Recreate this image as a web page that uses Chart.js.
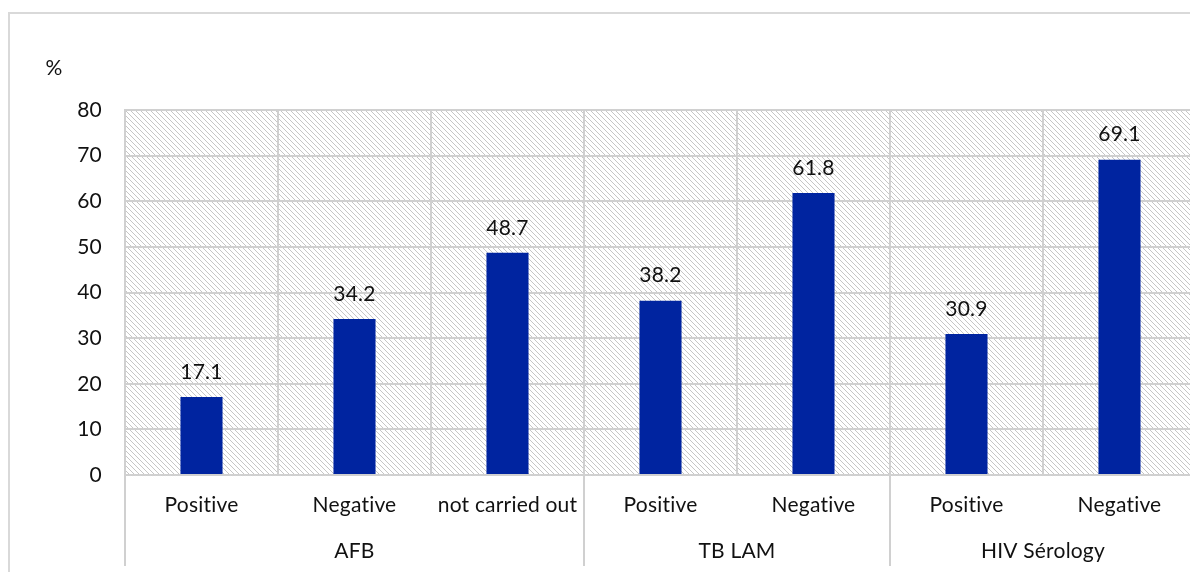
<!DOCTYPE html>
<html>
<head>
<meta charset="utf-8">
<script src="https://cdn.jsdelivr.net/npm/chart.js@4.4.1/dist/chart.umd.min.js"></script>
<style>
html,body{margin:0;padding:0;background:#fff;overflow:hidden;width:1190px;height:573px;}
canvas{display:block;}
</style>
</head>
<body>
<canvas id="c" width="1200" height="573"></canvas>
<script>
const categories = ['Positive','Negative','not carried out','Positive','Negative','Positive','Negative'];
const groups = ['AFB','TB LAM','HIV Sérology'];
const groupSizes = [3,2,2];
const values = [17.1,34.2,48.7,38.2,61.8,30.9,69.1];
const yTicks = [0,10,20,30,40,50,60,70,80];
const unitLabel = '%';

const FONT = 'Lato, "Open Sans", sans-serif';
const FS = 21;
const GRID = '#d0d0d0';

function makePattern(){
  const s = 5;
  const p = document.createElement('canvas');
  p.width = s; p.height = s;
  const g = p.getContext('2d');
  g.fillStyle = '#ffffff';
  g.fillRect(0,0,s,s);
  g.strokeStyle = '#c6c6c6';
  g.lineWidth = 1;
  for (const o of [-s,0,s]){
    g.beginPath();
    g.moveTo(o-1,-1);
    g.lineTo(o+s+1,s+1);
    g.stroke();
  }
  return g.createPattern(p,'repeat');
}

const decor = {
  id:'decor',
  beforeDraw(chart){
    const {ctx, chartArea:a} = chart;
    if ('letterSpacing' in ctx) ctx.letterSpacing = '0.2px';
    ctx.save();
    ctx.fillStyle = makePattern();
    ctx.fillRect(a.left,a.top,a.right-a.left,a.bottom-a.top);
    ctx.restore();
  },
  afterDraw(chart){
    const {ctx, chartArea:a} = chart;
    const x = chart.scales.x;
    ctx.save();
    // outer border
    ctx.strokeStyle = '#d9d9d9';
    ctx.lineWidth = 2;
    ctx.beginPath();
    ctx.moveTo(9,572); ctx.lineTo(9,13); ctx.lineTo(1200,13);
    ctx.stroke();
    // unit label
    ctx.fillStyle = '#111111';
    ctx.font = FS + 'px ' + FONT;
    ctx.textAlign = 'center';
    ctx.textBaseline = 'middle';
    ctx.fillText(unitLabel, 54, 68);
    // data labels
    const meta = chart.getDatasetMeta(0);
    meta.data.forEach((bar,i)=>{
      ctx.fillText(values[i].toFixed(1), bar.x, bar.y - 25);
    });
    // group separators and labels
    const half = (x.getPixelForValue(1) - x.getPixelForValue(0))/2;
    let idx = 0;
    ctx.strokeStyle = GRID;
    ctx.lineWidth = 2;
    const bounds = [];
    groups.forEach((gname,gi)=>{
      const l = x.getPixelForValue(idx) - half;
      const r = x.getPixelForValue(idx+groupSizes[gi]-1) + half;
      bounds.push(l); if (gi===groups.length-1) bounds.push(r);
      ctx.fillText(gname, (l+r)/2, 551);
      idx += groupSizes[gi];
    });
    bounds.forEach(b=>{
      ctx.beginPath(); ctx.moveTo(b,a.bottom); ctx.lineTo(b,566); ctx.stroke();
    });
    ctx.restore();
  }
};

new Chart(document.getElementById('c'),{
  type:'bar',
  data:{
    labels:categories,
    datasets:[{data:values, backgroundColor:'#0024a0', barPercentage:0.55, categoryPercentage:0.5}]
  },
  options:{
    responsive:false,
    animation:false,
    layout:{padding:{top:110,right:4,left:0,bottom:0}},
    plugins:{legend:{display:false},tooltip:{enabled:false}},
    scales:{
      x:{
        grid:{color:GRID,lineWidth:2,drawTicks:false,offset:true},
        border:{color:GRID,width:2},
        ticks:{color:'#111111',font:{family:FONT,size:FS},padding:18,maxRotation:0,autoSkip:false},
        afterFit(s){ s.height = 98; }
      },
      y:{
        min:0,max:80,
        grid:{color:GRID,lineWidth:2,drawTicks:false},
        border:{color:GRID,width:2},
        afterBuildTicks(s){ s.ticks = yTicks.map(v=>({value:v})); },
        ticks:{color:'#111111',font:{family:FONT,size:FS},padding:23},
        afterFit(s){ s.width = 125; }
      }
    }
  },
  plugins:[decor]
});
</script>
</body>
</html>
